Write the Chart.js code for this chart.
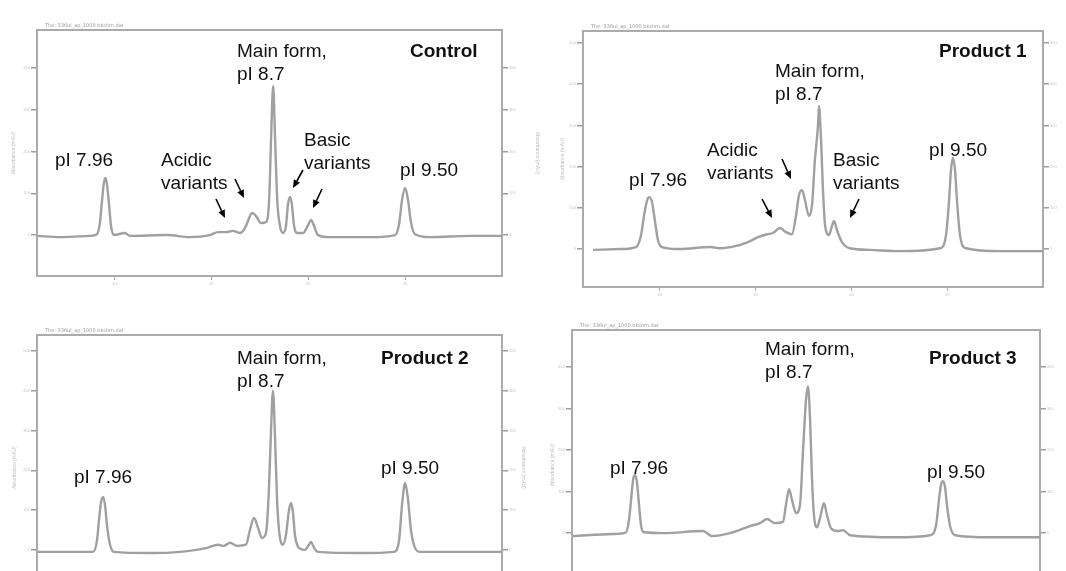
<!DOCTYPE html>
<html lang="en">
<head>
<meta charset="UTF-8">
<title>cIEF profiles: Control and Products 1-3</title>
<script src="https://cdn.jsdelivr.net/npm/chart.js"></script>
<style>
  html, body { margin: 0; padding: 0; background: #fff; overflow: hidden; width: 1066px; height: 571px; }
  canvas { position: absolute; }
  .lbl { position: absolute; font-family: "Liberation Sans", Arial, sans-serif; font-size: 19px; line-height: 23px; color: #111; white-space: nowrap; }
  .b { font-weight: bold; }
</style>
</head>
<body>
<canvas id="c1" width="540" height="290" style="left:0;top:0"></canvas>
<canvas id="c2" width="526" height="300" style="left:540px;top:0"></canvas>
<canvas id="c3" width="540" height="320" style="left:0;top:290px"></canvas>
<canvas id="c4" width="526" height="320" style="left:540px;top:290px"></canvas>

<!-- Control -->
<div class="lbl" style="left:237px;top:39px">Main form,<br>pI 8.7</div>
<div class="lbl b" style="left:410px;top:39px">Control</div>
<div class="lbl" style="left:55px;top:148px">pI 7.96</div>
<div class="lbl" style="left:161px;top:148px">Acidic<br>variants</div>
<div class="lbl" style="left:304px;top:128px">Basic<br>variants</div>
<div class="lbl" style="left:400px;top:158px">pI 9.50</div>
<!-- Product 1 -->
<div class="lbl b" style="left:939px;top:39px">Product 1</div>
<div class="lbl" style="left:775px;top:59px">Main form,<br>pI 8.7</div>
<div class="lbl" style="left:707px;top:138px">Acidic<br>variants</div>
<div class="lbl" style="left:833px;top:148px">Basic<br>variants</div>
<div class="lbl" style="left:629px;top:168px">pI 7.96</div>
<div class="lbl" style="left:929px;top:138px">pI 9.50</div>
<!-- Product 2 -->
<div class="lbl" style="left:237px;top:346px">Main form,<br>pI 8.7</div>
<div class="lbl b" style="left:381px;top:346px">Product 2</div>
<div class="lbl" style="left:74px;top:465px">pI 7.96</div>
<div class="lbl" style="left:381px;top:456px">pI 9.50</div>
<!-- Product 3 -->
<div class="lbl" style="left:765px;top:337px">Main form,<br>pI 8.7</div>
<div class="lbl b" style="left:929px;top:346px">Product 3</div>
<div class="lbl" style="left:610px;top:456px">pI 7.96</div>
<div class="lbl" style="left:927px;top:460px">pI 9.50</div>

<script>
// shared axis ticks
const xTicks = [10, 15, 20, 25];
const yTicks4 = [0, 100, 200, 300, 400];
const yTicks5 = [0, 100, 200, 300, 400, 500];

// Control trace
const controlX = [6.00, 7.19, 8.74, 9.10, 9.25, 9.36, 9.46, 9.54, 9.61, 9.72, 9.82, 9.97, 10.54, 10.80, 12.71, 13.90, 14.93, 15.34, 15.75, 16.12, 16.48, 16.74, 16.95, 17.10, 17.30, 17.56, 17.82, 17.98, 18.08, 18.19, 18.29, 18.40, 18.54, 18.70, 18.85, 18.95, 19.06, 19.16, 19.26, 19.42, 19.73, 19.99, 20.14, 20.30, 20.50, 21.12, 23.19, 24.48, 24.68, 24.84, 25.00, 25.15, 25.30, 25.51, 26.28, 28.35, 30.00];
const controlY = [-2, -5, -2, 2, 31, 84, 127, 137, 122, 72, 22, 0, 5, -2, 0, -5, 0, 7, 7, 10, 5, 17, 41, 53, 46, 29, 31, 84, 228, 357, 228, 84, 22, 5, 22, 72, 91, 72, 24, 5, 5, 24, 36, 22, 0, -5, -5, 0, 24, 84, 113, 84, 31, 2, -5, -2, -2];

// Product 1 trace
const p1X = [6.52, 7.93, 8.77, 9.03, 9.19, 9.35, 9.44, 9.60, 9.76, 9.91, 10.12, 11.06, 12.63, 13.15, 13.94, 14.61, 15.13, 15.60, 15.91, 16.28, 16.59, 16.90, 17.12, 17.27, 17.43, 17.58, 17.79, 17.95, 18.10, 18.26, 18.31, 18.42, 18.52, 18.63, 18.83, 18.99, 19.10, 19.25, 19.51, 19.93, 20.97, 22.54, 24.63, 24.94, 25.10, 25.20, 25.30, 25.41, 25.51, 25.67, 25.98, 27.76, 30.00];
const p1Y = [-2, 0, 5, 34, 83, 119, 126, 114, 66, 22, 5, 0, 5, 2, 7, 17, 29, 36, 39, 51, 41, 36, 83, 131, 143, 119, 80, 107, 216, 300, 347, 265, 143, 58, 34, 56, 68, 46, 17, 2, -2, -5, 2, 34, 119, 192, 221, 192, 119, 34, 2, -5, -5];

// Product 2 trace
const p2X = [6.05, 7.70, 8.89, 9.10, 9.20, 9.30, 9.41, 9.51, 9.61, 9.77, 9.97, 11.83, 13.38, 14.77, 15.34, 15.65, 15.96, 16.32, 16.79, 16.99, 17.20, 17.41, 17.61, 17.82, 17.97, 18.08, 18.18, 18.29, 18.39, 18.54, 18.70, 18.85, 19.01, 19.11, 19.21, 19.31, 19.52, 19.83, 20.04, 20.14, 20.30, 20.50, 22.67, 24.43, 24.69, 24.84, 25.00, 25.15, 25.30, 25.51, 25.77, 27.83, 30.00];
const p2Y = [-5, -5, -5, 25, 75, 118, 133, 113, 63, 13, -5, -8, -5, 5, 13, 10, 18, 10, 13, 50, 80, 55, 30, 43, 151, 302, 400, 276, 126, 30, 13, 38, 101, 118, 95, 38, 5, 0, 13, 20, 5, -5, -8, -5, 25, 113, 168, 126, 50, 5, -5, -5, -5];

// Product 3 trace
const p3X = [6.05, 8.10, 8.77, 8.92, 9.03, 9.13, 9.23, 9.33, 9.44, 9.54, 9.69, 10.67, 12.72, 13.18, 14.10, 15.13, 15.64, 16.00, 16.41, 16.82, 16.97, 17.13, 17.28, 17.49, 17.69, 17.85, 18.00, 18.10, 18.21, 18.31, 18.41, 18.56, 18.72, 18.92, 19.08, 19.28, 19.64, 19.90, 20.26, 22.67, 24.36, 24.67, 24.82, 24.92, 25.03, 25.13, 25.23, 25.38, 25.64, 27.44, 30.00];
const p3Y = [-7, -2, 2, 31, 80, 128, 140, 123, 67, 19, 2, 0, 5, -7, 0, 17, 24, 34, 24, 27, 67, 106, 80, 48, 67, 200, 321, 354, 272, 128, 43, 14, 36, 72, 43, 12, 5, 7, -5, -10, -5, 19, 80, 116, 125, 111, 67, 19, -5, -10, -10];

// frame, header line and annotation arrows (arrow coords are page pixels)
function framePlugin(header, arrows, ox, oy) {
    return {
        id: 'frame',
        beforeDatasetsDraw(chart) {
            const a = chart.chartArea, ctx = chart.ctx;
            ctx.save();
            ctx.strokeStyle = '#ababab';
            ctx.lineWidth = 2;
            ctx.strokeRect(a.left, a.top, a.right - a.left, a.bottom - a.top);
            ctx.fillStyle = '#999';
            ctx.font = '5px "DejaVu Sans"';
            ctx.textBaseline = 'bottom';
            ctx.fillText(header, a.left + 8, a.top - 2);
            ctx.restore();
        },
        afterDraw(chart) {
            const ctx = chart.ctx;
            ctx.save();
            ctx.strokeStyle = '#000';
            ctx.fillStyle = '#000';
            ctx.lineWidth = 1.6;
            arrows.forEach(([x1, y1, x2, y2]) => {
                x1 -= ox; x2 -= ox; y1 -= oy; y2 -= oy;
                const ang = Math.atan2(y2 - y1, x2 - x1);
                const hl = 8, hw = 3.5;
                const bx = x2 - hl * Math.cos(ang), by = y2 - hl * Math.sin(ang);
                ctx.beginPath();
                ctx.moveTo(x1, y1);
                ctx.lineTo(bx, by);
                ctx.stroke();
                ctx.beginPath();
                ctx.moveTo(x2, y2);
                ctx.lineTo(bx + hw * Math.sin(ang), by - hw * Math.cos(ang));
                ctx.lineTo(bx - hw * Math.sin(ang), by + hw * Math.cos(ang));
                ctx.closePath();
                ctx.fill();
            });
            ctx.restore();
        }
    };
}

function yAxis(pos, ticks, min, max, width, titlePad, showTitle) {
    return {
        type: 'linear', position: pos, min: min, max: max,
        afterBuildTicks: s => { s.ticks = ticks.map(v => ({ value: v })); },
        afterFit: s => { s.width = width; },
        grid: { drawOnChartArea: false, tickLength: 6, color: '#9d9d9d', lineWidth: 1.5 },
        border: { display: false },
        ticks: { font: { size: 4 }, color: '#c4c4c4', padding: 1 },
        title: { display: showTitle, text: 'Absorbance (mAU)', font: { size: 5 }, color: '#bdbdbd', padding: { top: titlePad, bottom: 0 } }
    };
}

function panel(id, xs, ys, opt) {
    const pts = xs.map((x, i) => ({ x: x, y: ys[i] }));
    new Chart(document.getElementById(id), {
        type: 'line',
        data: {
            datasets: [{
                data: pts,
                borderColor: '#a0a0a0',
                borderWidth: 2.4,
                pointRadius: 0,
                fill: false,
                cubicInterpolationMode: 'monotone'
            }]
        },
        options: {
            responsive: false,
            animation: false,
            layout: { padding: { top: opt.top, left: 0, right: 0, bottom: 0 } },
            plugins: { legend: { display: false }, tooltip: { enabled: false } },
            scales: {
                x: {
                    type: 'linear', min: 6, max: 30,
                    afterBuildTicks: s => { s.ticks = xTicks.map(v => ({ value: v })); },
                    afterFit: s => { s.height = opt.bottom; },
                    grid: { drawOnChartArea: false, tickLength: 4, color: '#aaa' },
                    border: { display: false },
                    ticks: { font: { size: 4 }, color: '#bbb', padding: 1 }
                },
                y: yAxis('left', opt.yTicks, opt.yMin, opt.yMax, opt.left, opt.lPad, true),
                y2: yAxis('right', opt.yTicks, opt.yMin, opt.yMax, opt.right, opt.rPad, opt.rTitle)
            }
        },
        plugins: [framePlugin(opt.header, opt.arrows, opt.ox, opt.oy)]
    });
}

panel('c1', controlX, controlY, {
    top: 30, bottom: 14, left: 37, right: 38, yMin: -98, yMax: 491, yTicks: yTicks4,
    lPad: 11, rPad: 0, rTitle: true, ox: 0, oy: 0,
    header: 'The: 336ul_ap_1000 bkshm.dat',
    arrows: [[216, 199, 225, 218], [235, 179, 244, 198], [303, 170, 293, 188], [322, 189, 313, 208]]
});
panel('c2', p1X, p1Y, {
    top: 31, bottom: 13, left: 43, right: 23, yMin: -92, yMax: 529, yTicks: yTicks5,
    lPad: 20, rPad: 0, rTitle: false, ox: 540, oy: 0,
    header: 'The: 336ul_ap_1000 bkshm.dat',
    arrows: [[782, 159, 791, 179], [762, 199, 772, 218], [859, 199, 850, 218]]
});
panel('c3', p2X, p2Y, {
    top: 45, bottom: 10, left: 37, right: 38, yMin: -126, yMax: 540, yTicks: yTicks5,
    lPad: 12, rPad: 14, rTitle: true, ox: 0, oy: 290,
    header: 'The: 336ul_ap_1000 bkshm.dat',
    arrows: []
});
panel('c4', p3X, p3Y, {
    top: 40, bottom: 10, left: 32, right: 26, yMin: -161, yMax: 489, yTicks: yTicks4,
    lPad: 10, rPad: 0, rTitle: false, ox: 540, oy: 290,
    header: 'The: 336ul_ap_1000 bkshm.dat',
    arrows: []
});
</script>
</body>
</html>
